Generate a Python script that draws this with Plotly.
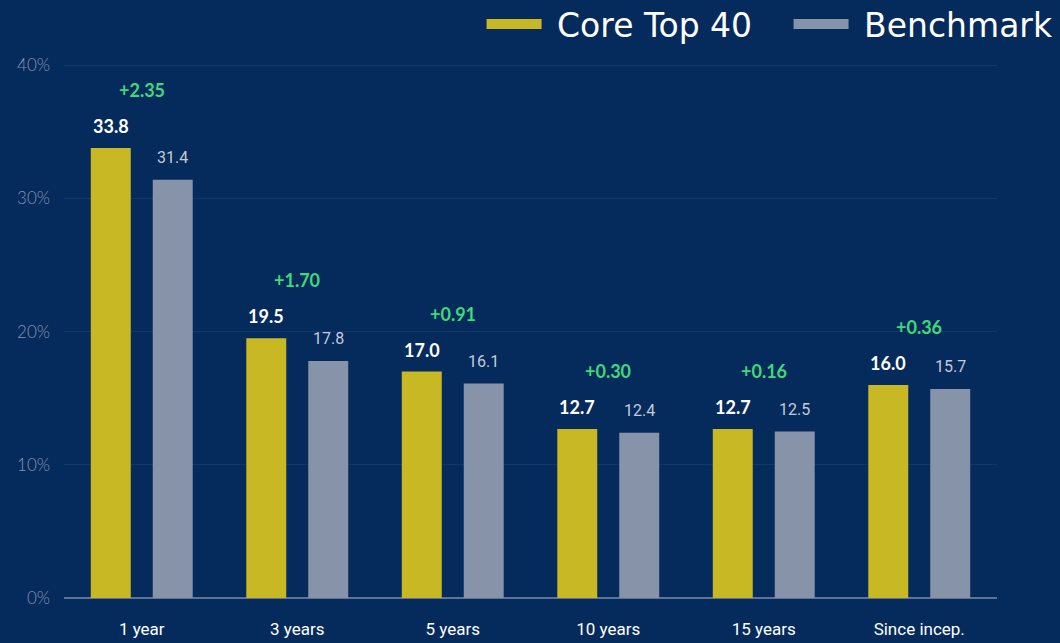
import plotly.graph_objects as go

categories = ["1 year", "3 years", "5 years", "10 years", "15 years", "Since incep."]
core = [33.8, 19.5, 17.0, 12.7, 12.7, 16.0]
bench = [31.4, 17.8, 16.1, 12.4, 12.5, 15.7]
excess = ["+2.35", "+1.70", "+0.91", "+0.30", "+0.16", "+0.36"]
y_ticks = [0, 10, 20, 30, 40]
y_ticklabels = ["0%", "10%", "20%", "30%", "40%"]

BG = "#052a5c"
YELLOW = "#c8b823"
GRAY = "#8793a9"
GREEN = "#3fd97a"

fig = go.Figure()
fig.add_trace(go.Bar(x=categories, y=core, name="Core Top 40", marker_color=YELLOW,
                     marker_line_width=0, showlegend=False))
fig.add_trace(go.Bar(x=categories, y=bench, name="Benchmark", marker_color=GRAY,
                     marker_line_width=0, showlegend=False))
# legend entries as thick lines
fig.add_trace(go.Scatter(x=[None], y=[None], mode="lines",
                         name="\u00a0Core Top 40\u00a0\u00a0\u00a0",
                         line=dict(color=YELLOW, width=10)))
fig.add_trace(go.Scatter(x=[None], y=[None], mode="lines", name="\u00a0Benchmark",
                         line=dict(color=GRAY, width=10)))

annotations = []
for i, c in enumerate(categories):
    annotations.append(dict(x=i, xref="x", y=core[i], yref="y", xshift=-31, yshift=22,
                            text=f"{core[i]:.1f}", showarrow=False,
                            font=dict(family="Lato", size=18, color="white", weight=700)))
    annotations.append(dict(x=i, xref="x", y=bench[i], yref="y", xshift=31, yshift=22,
                            text=f"{bench[i]:.1f}", showarrow=False,
                            font=dict(family="Liberation Sans Narrow, Roboto", size=16, color="#c3cad8")))
    annotations.append(dict(x=i, xref="x", y=core[i], yref="y", yshift=58,
                            text=excess[i], showarrow=False,
                            font=dict(family="Lato", size=18, color=GREEN, weight=700)))

fig.update_layout(
    width=1060, height=643,
    paper_bgcolor=BG, plot_bgcolor=BG,
    margin=dict(l=64, r=63, t=60, b=45, autoexpand=False),
    barmode="group", bargap=0.203, bargroupgap=0.355,
    annotations=annotations,
    legend=dict(orientation="h", x=1.066, xanchor="right", y=1.067, yanchor="middle",
                font=dict(family="DejaVu Sans", size=33, color="white"),
                bgcolor="rgba(0,0,0,0)", itemwidth=55, traceorder="normal"),
    xaxis=dict(showgrid=False, showline=False, zeroline=False,
               tickfont=dict(family="Liberation Sans Narrow, Roboto", size=17, color="white"),
               ticks="", ticklabelstandoff=19),
    yaxis=dict(range=[0, 40.4], tickvals=y_ticks, ticktext=y_ticklabels,
               showgrid=True, gridcolor="#103867", gridwidth=1,
               zeroline=True, zerolinecolor="#5d7395", zerolinewidth=2,
               tickfont=dict(family="Lato", size=17, color="#8494b2", weight=300),
               ticklabelstandoff=13),
)

fig.write_html("out.html")
